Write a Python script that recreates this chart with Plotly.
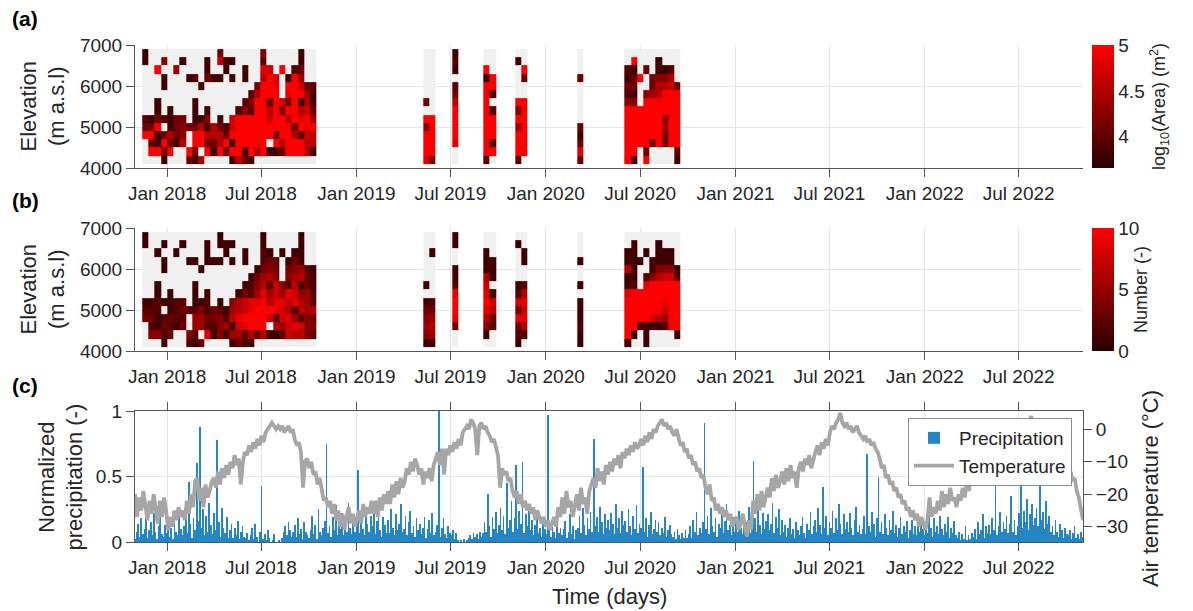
import numpy as np
import pandas as pd
import plotly.graph_objects as go

W, H = 1193, 611
FONT = "Liberation Sans, Arial, sans-serif"

# ---------------- Panels (a) and (b): detection grid ----------------
elev_edges = [4100, 4300, 4500, 4700, 4900, 5100, 5300, 5500, 5700, 5900,
              6100, 6300, 6500, 6700, 6900]
period_starts = ["2017-11-14", "2019-05-09", "2019-07-05", "2019-09-03",
                 "2019-11-03", "2020-03-02", "2020-06-01"]
period_ncols = [28, 2, 1, 2, 2, 1, 9]
bin_days = 12

# colour level codes (0 = bottom of colour bar, 9 = top), rows from 6900 m down to 4100 m
# '.' = scene observed but no avalanche in that cell
area_p1 = [
    "1...........3......4.....1..",
    "1..4..1...1.611....2.....1..",
    "..9..5....1..1..1..87.9.23..",
    "...1...12.311.1.1..697.195..",
    "...1.....1........3998.99732",
    ".................26999.89951",
    "..1.....1.......249939739161",
    "..1.1...1.1....2429969499673",
    "2132133.114.1.79999979969895",
    "339.134336163179999999993989",
    "9913634.99666399999993996276",
    ".319316.993369199999.9699966",
    ".9939..93.919399196911399961",
    "...1...316....1631..........",
]
area_p2 = ["..", "..", "..", "..", "..", "..", "3.", "..", "99", "49", "99", "99", "99", "83"]
area_p3 = ["1", "2", "1", ".", "2", "3", "6", "9", "9", "9", "9", "8", ".", "."]
area_p4 = ["..", "..", "9.", "19", "99", "92", "9.", "92", "99", "99", "99", "92", "99", "2."]
area_p5 = ["..", "1.", ".9", ".3", "..", "..", "99", "49", "99", "59", "99", "99", "99", "2."]
area_p6 = [".", ".", ".", "3", ".", ".", ".", ".", ".", "3", "1", "3", "8", "3"]
area_p7 = [
    ".........",
    ".9...1...",
    "21.3.112.",
    "139.3446.",
    "33..36673",
    "21.456999",
    "44.999999",
    "999999999",
    "999999499",
    "999999599",
    "999999399",
    "999939399",
    "99.3....2",
    "91.9....1",
]

count_p1 = [
    "1...........1......1.....1..",
    "1..1..1...1.111....1.....1..",
    "..1..1....1..1..1..21.1.11..",
    "...1...11.111.1.1..232.131..",
    "...1.....1........1343.34521",
    ".................13564.45631",
    "..1.....1.......124627426131",
    "..1.1...1.1....1325857587452",
    "1121122.112.1.46788968868652",
    "222.123224132156789998762656",
    "3312322.55334268999972785243",
    ".213213.552245178999.6578744",
    ".4423..42.814155263611276642",
    "...1...213....1321..........",
]
count_p2 = ["..", "..", ".1", "..", "..", "..", "1.", "..", "12", "33", "45", "56", "45", "11"]
count_p3 = ["1", "1", ".", ".", "1", "1", "2", "8", "9", "9", "8", "3", ".", "."]
count_p4 = ["..", "..", "1.", "11", "11", "61", "7.", "81", "97", "86", "63", "42", "1.", ".."]
count_p5 = ["..", "1.", ".1", ".1", "..", "..", "12", "26", "78", "37", "88", "36", "22", "1."]
count_p6 = [".", ".", ".", "1", ".", ".", "1", ".", "1", "1", "1", "2", "1", "1"]
count_p7 = [
    ".........",
    ".1...1...",
    "11.1.111.",
    "111.1111.",
    "61..14441",
    "11.246772",
    "12.899999",
    "899999999",
    "999999899",
    "999999799",
    "999976599",
    "991111299",
    "91.1....1",
    "1..1.....",
]

area_periods = [area_p1, area_p2, area_p3, area_p4, area_p5, area_p6, area_p7]
count_periods = [count_p1, count_p2, count_p3, count_p4, count_p5, count_p6, count_p7]
AREA_RANGE = (3.66, 5.0)
COUNT_RANGE = (0.0, 10.0)

# ---------------- Panel (c): climate ----------------
temp_2017 = [-20, -27, -21, -25, -19, -24, -28, -22, -26, -20, -24, -29, -22, -27, -21, -25]
temp_2018 = [-31, -27, -30, -25, -28, -24, -27, -25,
             -28, -22, -26, -20, -24, -16, -15,
             -22, -18, -24, -17, -21, -19, -16,
             -15, -18, -13, -17, -12, -15, -11, -14,
             -10, -12, -8, -11, -9, -17, -10, -7,
             -8, -5, -7, -4, -6, -3, -5,
             -2, -4, -1, 0, 1, 2, 1, 0,
             1, 0, 1, -1, 0, 1, -1, 0,
             -3, -5, -4, -7, -18, -10, -9,
             -12, -10, -14, -13, -17, -15, -19, -22,
             -21, -24, -22, -26, -23, -28, -25,
             -30, -26, -31, -27, -24, -29, -26, -30]
temp_2019 = [-27, -25, -29, -23, -27, -24, -26, -22,
             -26, -22, -27, -21, -25, -20, -23,
             -19, -23, -17, -21, -16, -20, -15, -18,
             -16, -12, -14, -10, -13, -9, -11,
             -14, -12, -17, -13, -15, -12, -16, -11,
             -9, -7, -11, -6, -14, -6, -8,
             -5, -7, -4, -6, -3, -5, -1, 0,
             1, 0, 3, 2, 0, -8, 1, 2,
             0, 1, -1, -2, -4, -3, -6,
             -8, -18, -12, -14, -13, -16, -15, -19,
             -21, -19, -23, -20, -24, -22, -25, -23,
             -26, -24, -28, -25, -27, -29, -27]
temp_2020 = [-30, -28, -31, -29, -27, -30, -24, -27,
             -21, -26, -19, -24, -22, -27, -23,
             -20, -25, -18, -23, -21, -26, -19, -17,
             -15, -18, -12, -16, -13, -17, -11, -14,
             -10, -13, -9, -11, -8, -12, -7,
             -9, -6, -8, -5, -7, -4, -6, -5,
             -3, -5, -2, -4, -1, -3, 0, -1,
             1, 2, 3, 1, 2, 0, 1,
             -1, -2, 0, -3, -5, -4, -7, -6,
             -9, -8, -11, -10, -13, -12, -15, -14,
             -18, -20, -17, -22, -21, -25, -23,
             -26, -24, -27, -25, -28, -26, -30, -28]
temp_2021 = [-27, -31, -29, -26, -30, -33, -28, -31,
             -22, -26, -20, -25, -19, -24, -21,
             -18, -21, -15, -19, -14, -18, -16,
             -13, -17, -12, -16, -11, -15, -13, -18,
             -12, -10, -13, -9, -11, -8, -12, -9,
             -7, -5, -8, -4, -6, -3, -5,
             -1, 1, 0, 2, 3, 5, 2, 1,
             2, 0, 1, -1, 0, 1, -1, -2,
             -3, -2, -4, -3, -5, -4, -6,
             -7, -9, -12, -11, -15, -14, -17, -16,
             -19, -18, -21, -20, -23, -22, -25,
             -24, -27, -25, -28, -26, -30, -27, -29]
temp_2022 = [-31, -28, -21, -27, -24, -26, -22, -25,
             -19, -24, -20, -23, -18, -22, -21,
             -24, -20, -22, -18, -21, -16, -19, -15,
             -14, -17, -12, -15, -11, -13, -10,
             -8, -10, -7, -9, -5, -8, -4, -6,
             -3, -5, -2, -4, -1, -3, 0,
             -1, 1, 0, 3, 1, 2, 4, 1,
             3, 0, 1, -1, 0, -2, -1, -3,
             -4, -6, -5, -8, -7, -10, -9,
             -12, -14, -13, -16, -15, -19, -21, -24,
             -28]

# normalized precipitation (percent of maximum), 3-day samples
prcp_2017 = [2, 8, 14, 4, 18, 6, 10, 27, 3, 9,
             15, 5, 22, 8, 2, 12, 30, 6, 4, 13]
prcp_2018 = [7, 20, 4, 11, 2, 16, 8, 5, 24, 10,
             5, 12, 28, 7, 46, 14, 3, 18, 9, 60,
             16, 88, 11, 25, 5, 20, 8, 30, 13, 6,
             22, 9, 78, 15, 4, 26, 11, 7, 19, 3,
             9, 14, 3, 11, 5, 16, 2, 8, 12, 4,
             3, 7, 1, 5, 11, 2, 14, 4, 0, 8,
             43, 2, 6, 1, 9, 3, 0, 1, 6, 0,
             0, 1, 0, 3, 8, 12, 5, 15, 9, 4,
             8, 13, 4, 18, 6, 10, 2, 15, 8, 5,
             3, 9, 20, 6, 13, 2, 25, 8, 5, 11,
             16, 75, 7, 12, 4, 19, 9, 28, 5, 14,
             10, 22, 5, 16, 8, 30, 11, 6, 19, 8]
prcp_2019 = [13, 55, 7, 18, 10, 5, 24, 14, 8, 20,
             12, 27, 6, 16, 22, 9, 4, 19, 13, 7,
             17, 7, 25, 11, 5, 21, 9, 14, 29, 8,
             10, 20, 5, 15, 24, 7, 12, 4, 18, 9,
             14, 6, 11, 19, 3, 10, 17, 7, 22, 5,
             8, 13, 100, 4, 11, 18, 6, 3, 12, 7,
             5, 9, 2, 7, 1, 0, 1, 0, 2, 0,
             1, 3, 5, 2, 7, 4, 6, 2, 8, 4,
             7, 15, 8, 37, 12, 4, 19, 10, 23, 7,
             13, 26, 9, 20, 6, 45, 11, 17, 31, 8,
             18, 59, 10, 24, 14, 61, 7, 21, 12, 28,
             9, 17, 5, 13, 23, 7, 11, 4, 15, 10]
prcp_2020 = [6, 97, 12, 4, 18, 8, 3, 14, 7, 11,
             5, 10, 16, 3, 8, 21, 6, 12, 2, 9,
             11, 20, 7, 26, 13, 5, 18, 10, 23, 8,
             79, 12, 19, 8, 27, 15, 6, 21, 11, 17,
             9, 22, 14, 6, 29, 11, 18, 7, 24, 13,
             16, 8, 25, 12, 5, 20, 10, 28, 7, 14,
             11, 57, 8, 18, 4, 13, 23, 6, 10, 17,
             8, 15, 5, 11, 7, 19, 4, 9, 13, 6,
             4, 8, 2, 10, 5, 2, 7, 3, 9, 3,
             6, 12, 3, 17, 8, 23, 5, 11, 7, 15,
             91, 10, 20, 6, 26, 12, 8, 18, 4, 14,
             11, 22, 7, 16, 29, 9, 13, 5, 19, 8]
prcp_2021 = [17, 8, 24, 11, 6, 20, 10, 15, 27, 7,
             12, 62, 18, 8, 31, 13, 6, 22, 10, 16,
             21, 9, 14, 30, 7, 19, 11, 25, 5, 17,
             8, 13, 4, 11, 18, 6, 10, 3, 15, 9,
             5, 12, 19, 7, 3, 14, 9, 23, 6, 12,
             17, 8, 26, 13, 6, 42, 11, 20, 5, 15,
             11, 24, 7, 18, 9, 29, 14, 6, 21, 10,
             15, 8, 22, 11, 5, 17, 27, 8, 13, 6,
             10, 20, 6, 67, 12, 8, 23, 14, 4, 18,
             50, 8, 15, 6, 21, 11, 5, 17, 9, 24,
             7, 13, 4, 11, 19, 6, 12, 8, 16, 3,
             9, 17, 6, 12, 5, 21, 8, 14, 10, 5]
prcp_2022 = [15, 7, 23, 11, 4, 18, 8, 12, 6, 20,
             10, 5, 14, 8, 19, 3, 11, 7, 16, 5,
             3, 8, 1, 6, 2, 12, 1, 5, 2, 7,
             4, 10, 2, 15, 6, 9, 21, 3, 12, 7,
             13, 6, 18, 9, 57, 5, 12, 23, 8, 15,
             10, 20, 7, 14, 35, 8, 17, 5, 12, 22,
             53, 11, 24, 15, 33, 9, 21, 29, 13, 18,
             26, 12, 45, 17, 23, 10, 31, 14, 20, 8,
             12, 5, 17, 8, 4, 14, 9, 3, 11, 6,
             5, 9, 2, 7, 12, 3, 6, 2, 8, 4]

series_start, series_end = "2017-10-31", "2022-11-02"
tick_dates = ["2018-01-01", "2018-07-01", "2019-01-01", "2019-07-01", "2020-01-01",
              "2020-07-01", "2021-01-01", "2021-07-01", "2022-01-01", "2022-07-01"]
tick_labels = ["Jan 2018", "Jul 2018", "Jan 2019", "Jul 2019", "Jan 2020",
               "Jul 2020", "Jan 2021", "Jul 2021", "Jan 2022", "Jul 2022"]


# ---------------- build grids ----------------
def build_grid(periods, lo, hi):
    nrows = len(elev_edges) - 1
    edges, cover_cols, val_cols = [], [], []
    for p, (start, n, rows) in enumerate(zip(period_starts, period_ncols, periods)):
        s = pd.Timestamp(start)
        if p > 0:
            cover_cols.append([np.nan] * nrows)
            val_cols.append([np.nan] * nrows)
        edges += [s + pd.Timedelta(days=bin_days * k) for k in range(n + 1)]
        for c in range(n):
            cov, val = [], []
            for r in range(nrows - 1, -1, -1):
                line = rows[r]
                ch = line[c] if c < len(line) else "."
                cov.append(0.0)
                val.append(np.nan if ch == "." else lo + int(ch) / 9.0 * (hi - lo))
            cover_cols.append(cov)
            val_cols.append(val)
    xe = [e.strftime("%Y-%m-%d") for e in edges]
    return xe, np.array(cover_cols).T, np.array(val_cols).T


xa, cover_a, vals_a = build_grid(area_periods, *AREA_RANGE)
xb, cover_b, vals_b = build_grid(count_periods, *COUNT_RANGE)

temp = temp_2017 + temp_2018 + temp_2019 + temp_2020 + temp_2021 + temp_2022
prcp = prcp_2017 + prcp_2018 + prcp_2019 + prcp_2020 + prcp_2021 + prcp_2022
t_dates = pd.date_range(series_start, series_end, periods=len(temp))
p_dates = pd.date_range(series_start, "2022-11-01", periods=len(prcp))
prcp_norm = [v / 100.0 for v in prcp]

RED = [[0, "rgb(40,0,0)"], [1, "rgb(255,0,0)"]]
GRAY = [[0, "#f0f0f0"], [1, "#f0f0f0"]]

fig = go.Figure()

# panel a
fig.add_trace(go.Heatmap(x=xa, y=elev_edges, z=cover_a, colorscale=GRAY, showscale=False,
                         hoverinfo="skip", xaxis="x", yaxis="y"))
fig.add_trace(go.Heatmap(
    x=xa, y=elev_edges, z=vals_a, zmin=AREA_RANGE[0], zmax=AREA_RANGE[1], colorscale=RED,
    xaxis="x", yaxis="y", hoverinfo="skip",
    colorbar=dict(x=1092 / W, xanchor="left", y=1 - 106.5 / H, yanchor="middle",
                  len=123, lenmode="pixels", thickness=22, thicknessmode="pixels",
                  outlinewidth=0, xpad=0, ypad=0, tickvals=[4, 4.5, 5], ticktext=["4", "4.5", "5"],
                  ticks="", tickfont=dict(family=FONT, size=19, color="#262626"),
                  title=dict(text="log<sub>10</sub>(Area) (m<sup>2</sup>)", side="right",
                             font=dict(family=FONT, size=18, color="#262626")))))

# panel b
fig.add_trace(go.Heatmap(x=xb, y=elev_edges, z=cover_b, colorscale=GRAY, showscale=False,
                         hoverinfo="skip", xaxis="x2", yaxis="y2"))
fig.add_trace(go.Heatmap(
    x=xb, y=elev_edges, z=vals_b, zmin=COUNT_RANGE[0], zmax=COUNT_RANGE[1], colorscale=RED,
    xaxis="x2", yaxis="y2", hoverinfo="skip",
    colorbar=dict(x=1092 / W, xanchor="left", y=1 - 289.5 / H, yanchor="middle",
                  len=123, lenmode="pixels", thickness=22, thicknessmode="pixels",
                  outlinewidth=0, xpad=0, ypad=0, tickvals=[0, 5, 10],
                  ticks="", tickfont=dict(family=FONT, size=19, color="#262626"),
                  title=dict(text="Number (-)", side="right",
                             font=dict(family=FONT, size=18, color="#262626")))))

# panel c
fig.add_trace(go.Bar(x=p_dates, y=prcp_norm, width=1.5 * 86400000,
                     marker=dict(color="#0072BD", line=dict(width=0)), opacity=0.85,
                     name="Precipitation", xaxis="x3", yaxis="y3", hoverinfo="skip"))
fig.add_trace(go.Scatter(x=t_dates, y=temp, mode="lines", line=dict(color="#a6a6a6", width=3.8),
                         name="Temperature", xaxis="x3", yaxis="y4", hoverinfo="skip"))

XD = [135 / W, 1083 / W]
dom_a = [1 - 168 / H, 1 - 45 / H]
dom_b = [1 - 351 / H, 1 - 228 / H]
dom_c = [1 - 542 / H, 1 - 411 / H]

tickfont = dict(family=FONT, size=19, color="#262626")
common = dict(showline=True, linecolor="#555555", linewidth=1, ticks="outside", ticklen=8,
              tickcolor="#555555", tickfont=tickfont, showgrid=True, gridcolor="#e4e4e4",
              zeroline=False)
xcommon = dict(common, type="date", range=[series_start, series_end], tickvals=tick_dates,
               ticktext=tick_labels, domain=XD)

fig.update_layout(
    width=W, height=H, margin=dict(l=0, r=0, t=0, b=0, autoexpand=False),
    paper_bgcolor="white", plot_bgcolor="white",
    font=dict(family=FONT, color="#262626"),
    bargap=0,
    xaxis=dict(xcommon, anchor="y"),
    yaxis=dict(common, domain=dom_a, range=[4000, 7000], tickvals=[4000, 5000, 6000, 7000], anchor="x"),
    xaxis2=dict(xcommon, anchor="y2"),
    yaxis2=dict(common, domain=dom_b, range=[4000, 7000], tickvals=[4000, 5000, 6000, 7000], anchor="x2"),
    xaxis3=dict(xcommon, anchor="y3", mirror="ticks"),
    yaxis3=dict(common, domain=dom_c, range=[0, 1], tickvals=[0, 0.5, 1], ticktext=["0", "0.5", "1"], anchor="x3"),
    yaxis4=dict(common, domain=dom_c, range=[-34.7, 5.6], tickvals=[-30, -20, -10, 0], anchor="x3",
                overlaying="y3", side="right", showgrid=False),
    showlegend=True,
    legend=dict(x=1072 / W, xanchor="right", y=1 - 418 / H, yanchor="top",
                bgcolor="white", bordercolor="#8c8c8c", borderwidth=1,
                font=dict(family=FONT, size=19, color="#262626"), itemwidth=40,
                tracegroupgap=0),
)

ann_font = dict(family=FONT, size=22, color="#262626")
annotations = [
    dict(text="Elevation<br>(m a.s.l)", x=42 / W, y=1 - 106.5 / H, textangle=-90, font=ann_font),
    dict(text="Elevation<br>(m a.s.l)", x=42 / W, y=1 - 289.5 / H, textangle=-90, font=ann_font),
    dict(text="Normalized<br>precipitation (-)", x=60 / W, y=1 - 476.5 / H, textangle=-90, font=ann_font),
    dict(text="Air temperature (°C)", x=1150 / W, y=1 - 489 / H, textangle=-90, font=ann_font),
    dict(text="Time (days)", x=609 / W, y=1 - 596 / H, font=ann_font),
    dict(text="<b>(a)</b>", x=25 / W, y=1 - 19 / H, font=dict(family=FONT, size=21, color="black")),
    dict(text="<b>(b)</b>", x=25 / W, y=1 - 200 / H, font=dict(family=FONT, size=21, color="black")),
    dict(text="<b>(c)</b>", x=25 / W, y=1 - 385 / H, font=dict(family=FONT, size=21, color="black")),
]
for a in annotations:
    a.update(xref="paper", yref="paper", showarrow=False, xanchor="center", yanchor="middle")
fig.update_layout(annotations=annotations)

fig.write_html("out.html")
